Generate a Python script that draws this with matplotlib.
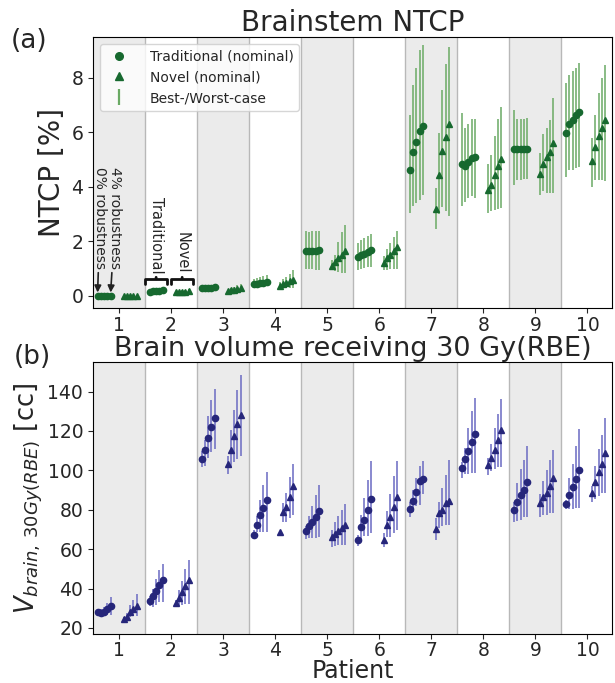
import numpy as np
import matplotlib.pyplot as plt
from matplotlib.lines import Line2D

patients = np.arange(1, 11)
robustness = ["0%", "1%", "2%", "3%", "4%"]

# ---- Brainstem NTCP [%] (rows: patient 1..10, cols: 0..4% robustness)
ntcp_trad = [
    [0.0, 0.0, 0.0, 0.0, 0.0],
    [0.15, 0.16, 0.17, 0.18, 0.20],
    [0.27, 0.28, 0.29, 0.30, 0.32],
    [0.43, 0.45, 0.46, 0.48, 0.50],
    [1.65, 1.63, 1.64, 1.66, 1.67],
    [1.41, 1.48, 1.55, 1.62, 1.67],
    [4.63, 5.28, 5.65, 6.04, 6.24],
    [4.85, 4.75, 4.91, 5.07, 5.10],
    [5.37, 5.37, 5.37, 5.40, 5.40],
    [5.98, 6.31, 6.45, 6.62, 6.74],
]
ntcp_trad_lo = [
    [0.0, 0.0, 0.0, 0.0, 0.0],
    [0.12, 0.13, 0.13, 0.14, 0.15],
    [0.18, 0.18, 0.19, 0.19, 0.20],
    [0.33, 0.33, 0.33, 0.34, 0.35],
    [0.98, 0.98, 0.97, 0.96, 0.96],
    [0.96, 1.00, 1.03, 1.05, 1.06],
    [3.04, 3.31, 3.41, 3.50, 3.69],
    [3.28, 3.44, 3.58, 3.65, 3.59],
    [4.06, 4.24, 4.24, 4.29, 4.29],
    [4.35, 4.60, 4.63, 4.69, 4.72],
]
ntcp_trad_hi = [
    [0.02, 0.02, 0.02, 0.02, 0.02],
    [0.19, 0.20, 0.22, 0.23, 0.25],
    [0.36, 0.38, 0.40, 0.41, 0.43],
    [0.60, 0.65, 0.70, 0.74, 0.77],
    [2.39, 2.35, 2.37, 2.39, 2.39],
    [1.94, 2.03, 2.12, 2.20, 2.28],
    [6.62, 7.72, 8.35, 9.02, 9.19],
    [6.72, 6.16, 6.31, 6.47, 6.47],
    [6.80, 6.50, 6.47, 6.50, 6.53],
    [7.79, 8.09, 8.24, 8.35, 8.53],
]
ntcp_nov = [
    [0.0, 0.0, 0.0, 0.0, 0.0],
    [0.12, 0.13, 0.14, 0.15, 0.17],
    [0.16, 0.20, 0.23, 0.25, 0.28],
    [0.37, 0.42, 0.47, 0.53, 0.59],
    [1.10, 1.23, 1.37, 1.51, 1.63],
    [1.20, 1.37, 1.51, 1.63, 1.79],
    [3.19, 4.42, 5.31, 5.81, 6.30],
    [3.88, 4.07, 4.42, 4.78, 5.02],
    [4.46, 4.85, 5.10, 5.28, 5.60],
    [4.94, 5.45, 5.86, 6.15, 6.45],
]
ntcp_nov_lo = [
    [0.0, 0.0, 0.0, 0.0, 0.0],
    [0.10, 0.10, 0.11, 0.11, 0.12],
    [0.13, 0.15, 0.17, 0.18, 0.20],
    [0.30, 0.30, 0.30, 0.30, 0.30],
    [0.93, 0.90, 0.86, 0.84, 0.83],
    [0.93, 0.95, 0.97, 0.98, 1.00],
    [2.45, 3.00, 3.25, 3.10, 2.92],
    [3.04, 3.10, 3.16, 3.19, 3.22],
    [3.71, 3.83, 3.78, 3.78, 3.78],
    [3.98, 4.26, 4.26, 4.26, 4.20],
]
ntcp_nov_hi = [
    [0.02, 0.02, 0.02, 0.02, 0.02],
    [0.16, 0.18, 0.20, 0.22, 0.24],
    [0.22, 0.28, 0.33, 0.38, 0.45],
    [0.50, 0.60, 0.70, 0.80, 0.93],
    [1.30, 1.50, 1.99, 2.35, 2.61],
    [1.45, 1.70, 1.95, 2.15, 2.39],
    [3.96, 5.99, 7.54, 8.49, 9.14],
    [4.85, 5.17, 5.86, 6.50, 6.94],
    [5.24, 5.92, 6.15, 6.45, 7.24],
    [5.80, 6.65, 7.45, 8.00, 8.46],
]

# ---- Brain volume receiving 30 Gy(RBE) [cc]
vol_trad = [
    [27.9, 27.6, 28.3, 29.6, 31.0],
    [33.5, 36.0, 38.9, 41.6, 44.2],
    [105.6, 110.2, 116.4, 122.0, 126.8],
    [67.2, 72.4, 77.2, 80.9, 84.8],
    [69.0, 71.6, 73.6, 76.3, 79.2],
    [64.5, 71.1, 75.0, 80.0, 85.5],
    [80.6, 84.5, 88.8, 94.4, 95.8],
    [101.2, 105.8, 110.0, 114.4, 118.5],
    [80.0, 83.8, 87.7, 90.2, 94.1],
    [82.9, 87.5, 91.6, 95.6, 100.0],
]
vol_trad_lo = [
    [26.8, 26.0, 26.3, 26.5, 26.8],
    [31.0, 30.8, 31.8, 33.0, 33.0],
    [101.5, 102.4, 106.3, 109.1, 110.9],
    [66.2, 68.9, 68.5, 68.5, 68.5],
    [65.2, 65.7, 65.7, 65.7, 66.2],
    [61.4, 65.2, 66.5, 66.9, 68.0],
    [76.1, 78.7, 81.7, 82.6, 88.2],
    [96.1, 98.3, 98.3, 98.7, 98.7],
    [73.6, 74.1, 75.0, 76.3, 76.3],
    [80.4, 80.4, 80.4, 80.9, 80.9],
]
vol_trad_hi = [
    [28.8, 29.5, 30.8, 32.5, 35.5],
    [36.4, 39.8, 44.9, 49.2, 52.6],
    [109.6, 115.6, 127.8, 135.9, 141.3],
    [69.9, 77.0, 85.1, 92.7, 99.3],
    [71.6, 76.6, 82.1, 87.3, 92.7],
    [67.0, 77.5, 86.0, 95.3, 104.6],
    [83.8, 90.2, 96.1, 102.0, 104.9],
    [104.1, 111.4, 121.5, 130.0, 136.8],
    [83.8, 93.6, 100.7, 105.4, 112.5],
    [85.1, 96.1, 103.4, 112.2, 121.0],
]
vol_nov = [
    [24.6, 25.6, 27.9, 29.6, 31.3],
    [32.7, 35.2, 38.1, 41.5, 44.2],
    [103.4, 110.5, 117.3, 123.6, 128.3],
    [68.5, 78.7, 81.4, 86.3, 91.9],
    [66.0, 67.9, 69.4, 70.8, 72.4],
    [64.8, 72.0, 76.3, 81.2, 86.3],
    [70.4, 78.5, 79.9, 83.2, 84.3],
    [102.7, 106.3, 110.5, 115.2, 120.3],
    [83.6, 86.3, 88.7, 91.9, 95.9],
    [88.5, 94.1, 99.2, 103.4, 108.8],
]
vol_nov_lo = [
    [24.0, 24.8, 25.5, 25.8, 26.0],
    [31.0, 31.0, 31.8, 32.3, 32.3],
    [98.0, 101.4, 104.1, 105.9, 107.5],
    [68.5, 73.6, 73.6, 75.8, 77.5],
    [61.1, 61.8, 62.3, 62.3, 62.3],
    [61.1, 66.2, 66.2, 68.2, 69.9],
    [64.5, 70.8, 71.6, 72.4, 72.4],
    [97.5, 99.5, 100.7, 101.7, 101.7],
    [76.3, 77.2, 77.2, 78.4, 78.4],
    [83.8, 85.5, 87.2, 88.5, 88.5],
]
vol_nov_hi = [
    [25.5, 27.5, 31.8, 34.4, 37.3],
    [34.0, 39.1, 43.7, 50.1, 54.7],
    [107.5, 120.3, 130.8, 141.0, 148.6],
    [68.5, 83.5, 88.5, 96.5, 103.4],
    [69.9, 73.6, 77.0, 80.0, 83.1],
    [68.2, 79.2, 88.2, 97.0, 104.6],
    [75.8, 83.8, 91.1, 97.8, 105.1],
    [106.3, 113.4, 121.5, 128.8, 136.4],
    [88.2, 94.4, 100.4, 105.1, 110.2],
    [91.9, 102.4, 110.9, 118.1, 126.6],
]

TXT = "#262626"
plt.rcParams["text.color"] = TXT
plt.rcParams["axes.labelcolor"] = TXT
plt.rcParams["xtick.color"] = TXT
plt.rcParams["ytick.color"] = TXT

trad_off = -0.41 + 0.0625 * np.arange(5)
nov_off = 0.09 + 0.0625 * np.arange(5)


def panel(ax, trad, tlo, thi, nov, nlo, nhi, mcol, ecol):
    for p in patients:
        if p % 2 == 1:
            ax.axvspan(p - 0.5, p + 0.5, color="#ebebeb", zorder=0, lw=0)
        if p < 10:
            ax.axvline(p + 0.5, color="#b8b8b8", lw=1.0, zorder=1)
    trad, tlo, thi = np.array(trad), np.array(tlo), np.array(thi)
    nov, nlo, nhi = np.array(nov), np.array(nlo), np.array(nhi)
    for i, p in enumerate(patients):
        xt = p + trad_off
        xn = p + nov_off
        ax.vlines(xt, tlo[i], thi[i], color=ecol, lw=1.1, zorder=2)
        ax.vlines(xn, nlo[i], nhi[i], color=ecol, lw=1.1, zorder=2)
        ax.plot(xt, trad[i], "o", color=mcol, ms=4.5, zorder=3)
        ax.plot(xn, nov[i], "^", color=mcol, ms=4.5, zorder=3)
    ax.set_xlim(0.5, 10.47)
    ax.set_xticks(patients)
    ax.tick_params(labelsize=13.5)
    ax.tick_params(axis="x", pad=2)


fig = plt.figure(figsize=(6.15, 6.83), dpi=100)
ax1 = fig.add_axes([0.151, 0.549, 0.844, 0.397])
ax2 = fig.add_axes([0.151, 0.072, 0.844, 0.398])

g_m, g_e = "#17692f", "#6aaa64"
b_m, b_e = "#26267a", "#6a6ac2"

panel(ax1, ntcp_trad, ntcp_trad_lo, ntcp_trad_hi, ntcp_nov, ntcp_nov_lo, ntcp_nov_hi, g_m, g_e)
ax1.set_ylim(-0.45, 9.5)
ax1.set_yticks([0, 2, 4, 6, 8])
ax1.set_ylabel("NTCP [%]", fontsize=20)
ax1.set_title("Brainstem NTCP", fontsize=20, pad=3)

panel(ax2, vol_trad, vol_trad_lo, vol_trad_hi, vol_nov, vol_nov_lo, vol_nov_hi, b_m, b_e)
ax2.set_ylim(17, 155)
ax2.set_yticks(np.arange(20, 141, 20))
ax2.set_ylabel(r"$V_{brain,\,30Gy(RBE)}$ [cc]", fontsize=18.5, labelpad=2)
ax2.set_xlabel("Patient", fontsize=17, labelpad=-1)
ax2.set_title("Brain volume receiving 30 Gy(RBE)", fontsize=19.5, pad=2)

fig.text(0.018, 0.93, "(a)", fontsize=19)
fig.text(0.022, 0.467, "(b)", fontsize=19)

handles = [
    Line2D([], [], marker="o", ls="none", color=g_m, ms=5.5),
    Line2D([], [], marker="^", ls="none", color=g_m, ms=5.5),
    Line2D([], [], marker="|", ls="none", color=g_e, ms=11, mew=1.6),
]
ax1.legend(handles, ["Traditional (nominal)", "Novel (nominal)", "Best-/Worst-case"],
           loc="upper left", fontsize=10, handletextpad=1.2, borderaxespad=0.5)

# robustness annotations
arrow = dict(arrowstyle="-|>", color="#222222", lw=1.2, shrinkA=1, shrinkB=1)
ax1.annotate("0% robustness", xy=(1 + trad_off[0], 0.07), xytext=(1 + trad_off[0] + 0.05, 1.0),
             rotation=-90, ha="center", va="bottom", fontsize=10, arrowprops=arrow)
ax1.annotate("4% robustness", xy=(1 + trad_off[4], 0.07), xytext=(1 + trad_off[4] + 0.09, 1.0),
             rotation=-90, ha="center", va="bottom", fontsize=10, arrowprops=arrow)
brk = dict(arrowstyle="-[, widthB=0.75, lengthB=0.35", color="#111111", lw=2, shrinkA=1, shrinkB=0)
ax1.annotate("Traditional", xy=(2 + trad_off[2], 0.62), xytext=(2 + trad_off[2], 0.83),
             rotation=-90, ha="center", va="bottom", fontsize=10.5, arrowprops=brk)
ax1.annotate("Novel", xy=(2 + nov_off[2], 0.62), xytext=(2 + nov_off[2], 0.83),
             rotation=-90, ha="center", va="bottom", fontsize=10.5, arrowprops=brk)

fig.savefig("out.png", dpi=100)
